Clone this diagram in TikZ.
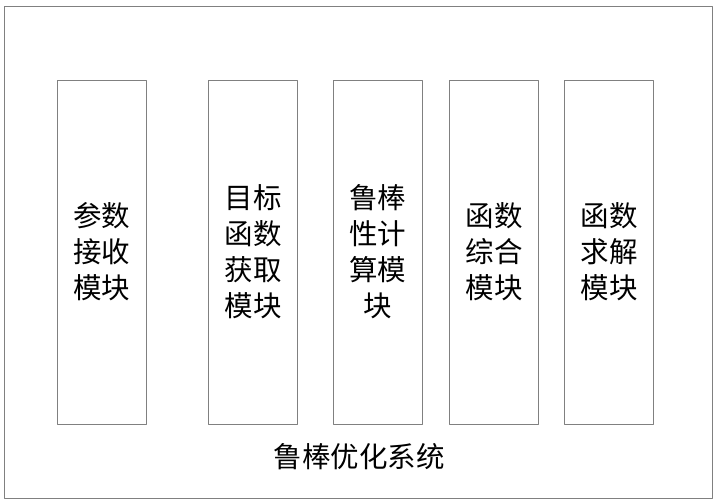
\documentclass[tikz,border=0pt]{standalone}
\usepackage{fontspec}
\newfontfamily\cjk{Noto Sans CJK SC}
\begin{document}
\begin{tikzpicture}[x=1pt, y=-1pt, line cap=round, line join=round,
    font=\cjk\fontsize{28.5}{36}\selectfont,
    frame/.style={draw=black!50, line width=0.9pt},
    modbox/.style={frame, minimum width=89pt, minimum height=344pt, align=center, inner sep=0pt}]
			\useasboundingbox (0,0) rectangle (720,500);
			\draw[frame] (4.5,6) rectangle (712,498);
			\node[modbox] (recv) at (101.5,252) {参数\\接收\\模块};
			\node[modbox] (obj) at (253,252) {目标\\函数\\获取\\模块};
			\node[modbox] (robust) at (377.5,252) {鲁棒\\性计\\算模\\块};
			\node[modbox] (comb) at (494,252) {函数\\综合\\模块};
			\node[modbox] (solve) at (609,252) {函数\\求解\\模块};
			\node (sys) at (359,457) {鲁棒优化系统};
		\end{tikzpicture}
\end{document}
